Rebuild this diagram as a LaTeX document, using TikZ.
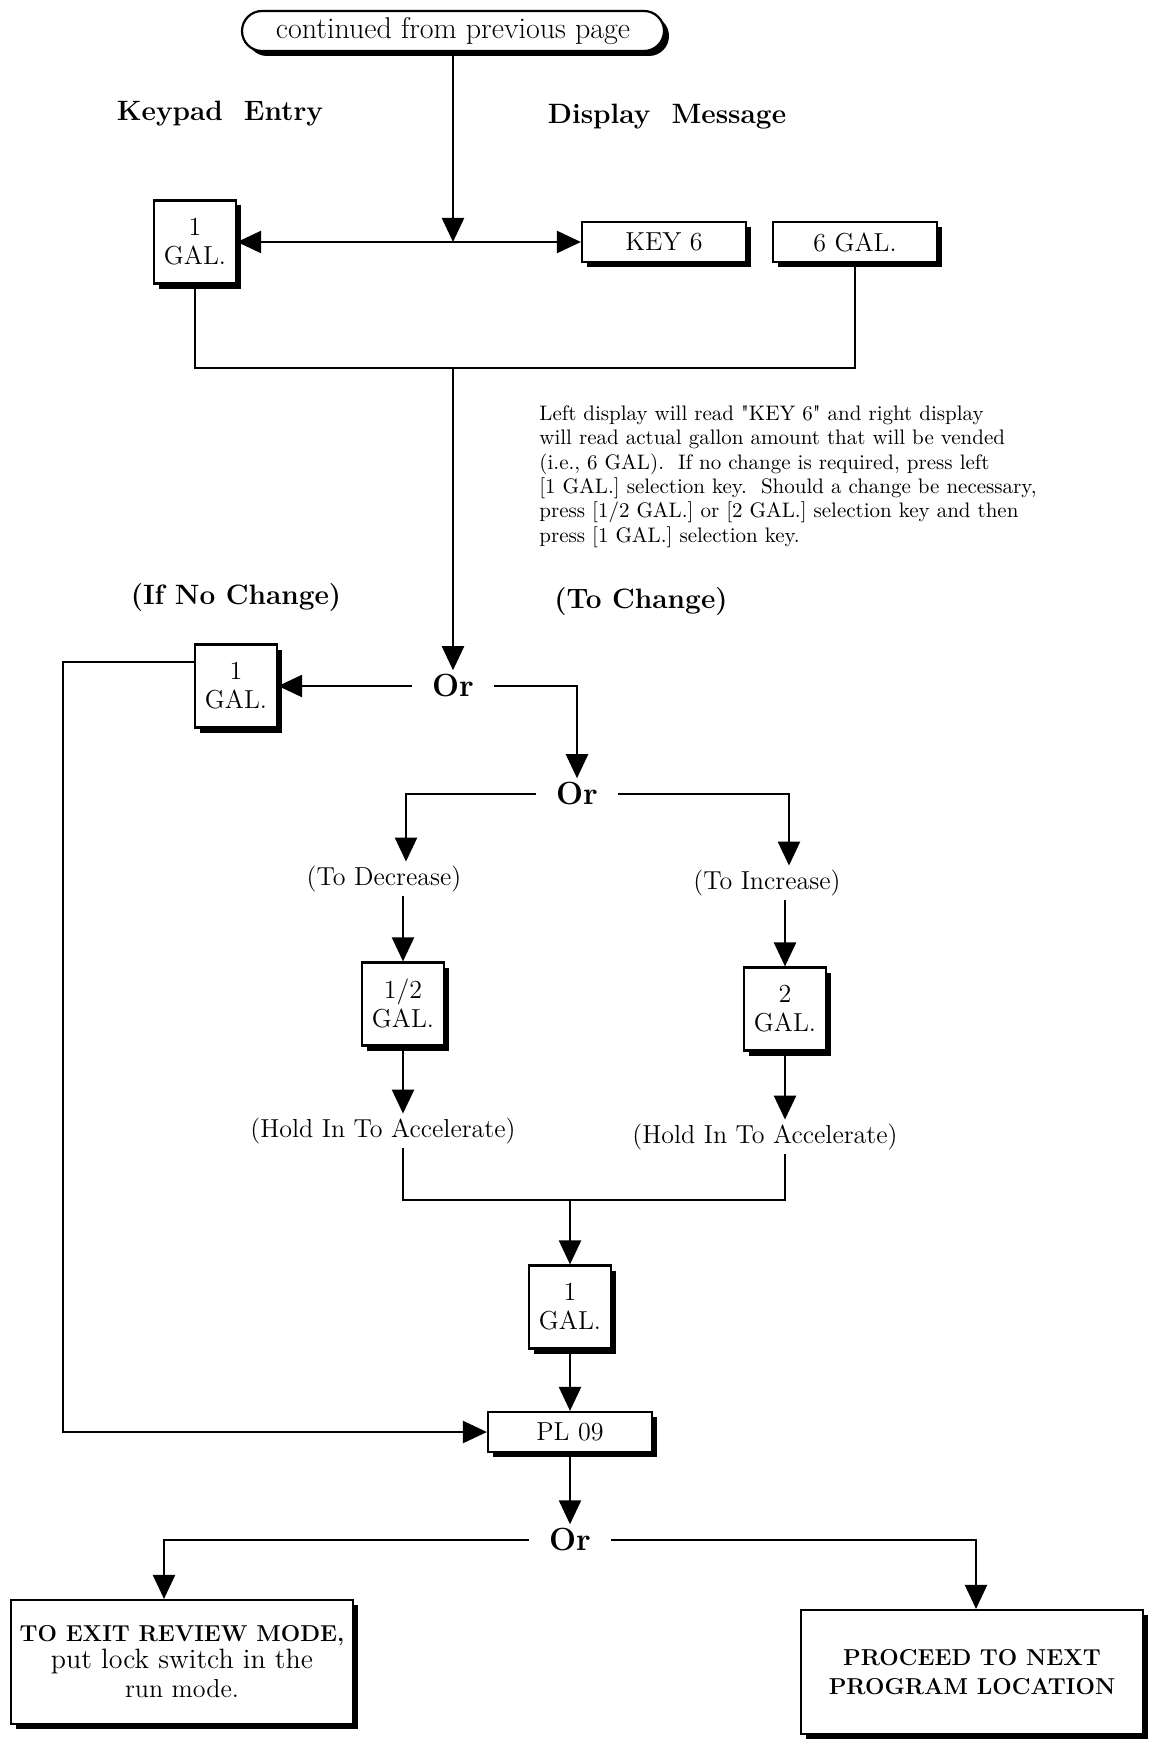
\documentclass[tikz,border=0pt]{standalone}
\usepackage{tikz}
\usetikzlibrary{arrows.meta, positioning, shadows}

\begin{document}
\begin{tikzpicture}[
    x=0.5pt, y=-0.5pt,
    shadowed/.style={drop shadow={shadow xshift=2.5pt, shadow yshift=-2.5pt, fill=black, opacity=1}},
    keybox/.style={rectangle, draw, line width=1.1pt, fill=white, shadowed, minimum width=41pt, minimum height=41.5pt, inner sep=1pt, align=center, font=\fontsize{13}{14.5}\selectfont},
    dispbox/.style={keybox, minimum width=82pt, minimum height=20pt},
    endbox/.style={keybox, minimum width=171pt, minimum height=62pt},
    arr/.style={-{Triangle[length=12pt, width=11pt]}, line width=1.2pt},
    arrboth/.style={{Triangle[length=12pt, width=11pt]}-{Triangle[length=12pt, width=11pt]}, line width=1.2pt},
    link/.style={line width=1.2pt},
    orlabel/.style={font=\fontsize{16}{18}\selectfont\bfseries, inner xsep=10pt, inner ysep=2pt},
    note/.style={font=\fontsize{13}{15}\selectfont, inner sep=2pt},
    heading/.style={font=\fontsize{14}{16}\selectfont\bfseries}
]
\useasboundingbox (0,0) rectangle (1157,1739);

% top part
\node[keybox, rounded corners=10pt, minimum width=211pt, minimum height=20pt, font=\fontsize{15}{16}\selectfont] (top) at (453,31) {continued from previous page};
\node[heading] (keyhead) at (220,114) {Keypad\ \ Entry};
\node[heading] (disphead) at (667,117) {Display\ \ Message};
\node[keybox] (gal1a) at (195,242) {1\\GAL.};
\node[dispbox] (key6) at (664,242) {KEY 6};
\node[dispbox] (gal6) at (855,242) {6 GAL.};
\coordinate (j1) at (453,242);
\coordinate (j2) at (453,368);

\draw[arr] (top) -- (j1);
\draw[arrboth] (gal1a) -- (key6);
\draw[link] (gal1a) |- (j2) -| (gal6);

\node[anchor=north west, align=left, inner sep=0pt, font=\fontsize{10.5}{12.2}\selectfont] (info) at (539,405)
  {Left display will read \textquotedbl KEY 6\textquotedbl{} and right display\\
   will read actual gallon amount that will be vended\\
   (i.e., 6 GAL).\ \ If no change is required, press left\\
   {[1 GAL.]} selection key.\ \ Should a change be necessary,\\
   press [1/2 GAL.] or [2 GAL.] selection key and then\\
   press [1 GAL.] selection key.};

% choice
\node[heading] (nochg) at (236,598) {(If No Change)};
\node[heading] (tochg) at (641,602) {(To Change)};
\node[orlabel] (or1) at (453,686) {Or};
\node[keybox] (gal1b) at (236,686) {1\\GAL.};
\node[orlabel] (or2) at (577,794) {Or};

\draw[arr] (j2) -- (or1);
\draw[arr] (or1) -- (gal1b);
\draw[arr] (or1) -| (or2);

% decrease / increase
\node[note] (dec) at (384,879) {(To Decrease)};
\node[note] (inc) at (767,883) {(To Increase)};
\node[keybox] (half) at (403,1004) {1/2\\GAL.};
\node[keybox] (two) at (785,1009) {2\\GAL.};
\node[note] (hold1) at (383,1131) {(Hold In To Accelerate)};
\node[note] (hold2) at (765,1137) {(Hold In To Accelerate)};

\draw[arr] (or2) -| ([xshift=11pt]dec.north);
\draw[arr] (or2) -| ([xshift=11pt]inc.north);
\draw[arr] (dec.south -| half) -- (half);
\draw[arr] (inc.south -| two) -- (two);
\draw[arr] (half) -- (half |- hold1.north);
\draw[arr] (two) -- (two |- hold2.north);

% merge
\coordinate (j3) at (570,1200);
\node[keybox] (gal1c) at (570,1307) {1\\GAL.};
\node[dispbox] (pl09) at (570,1432) {PL 09};
\coordinate (lp) at (63,1432);

\draw[link] (half |- hold1.south) |- (j3) -| (two |- hold2.south);
\draw[arr] (j3) -- (gal1c);
\draw[arr] (gal1c) -- (pl09);
\draw[arr] ([yshift=12pt]gal1b.west) -| (lp) -- (pl09.west);

% exit
\node[orlabel] (or3) at (570,1540) {Or};
\node[endbox] (exitbox) at (182,1662) {{\fontsize{11.5}{15}\selectfont\bfseries TO EXIT REVIEW MODE,}\\[-1pt]
  \fontsize{14}{15}\selectfont put lock switch in the\\run mode.};
\node[endbox, font=\fontsize{11.5}{14.5}\selectfont\bfseries] (nextbox) at (972,1672) {PROCEED TO NEXT\\PROGRAM LOCATION};

\draw[arr] (pl09) -- (or3);
\draw[arr] (or3) -| ([xshift=-9pt]exitbox.north);
\draw[arr] (or3) -| ([xshift=2pt]nextbox.north);
\end{tikzpicture}
\end{document}
